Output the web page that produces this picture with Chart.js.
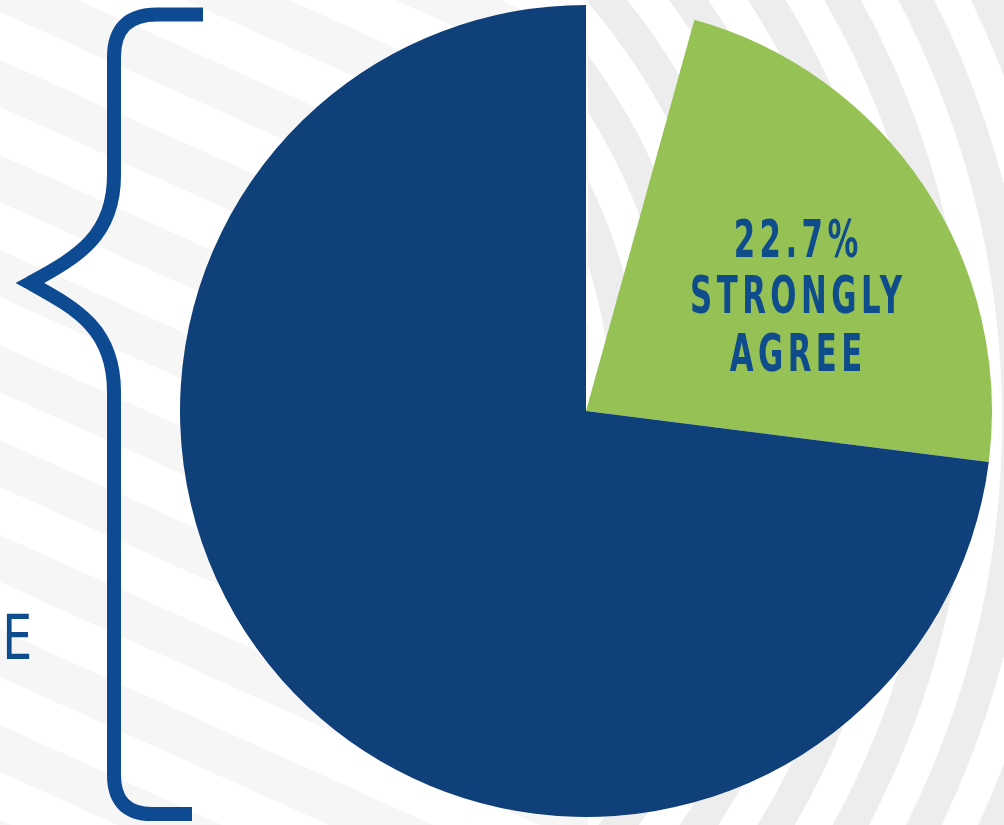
<!DOCTYPE html>
<html><head><meta charset="utf-8">
<script src="https://cdn.jsdelivr.net/npm/chart.js@4.4.1/dist/chart.umd.min.js"></script>
<style>
html,body{margin:0;padding:0;background:#fff;overflow:hidden}
#wrap{position:relative;width:1004px;height:825px}
#c{position:absolute;left:0;top:0}
.lbl{position:absolute;white-space:nowrap}
#slice-label{font-family:"DejaVu Sans Condensed","Liberation Sans Narrow",sans-serif;font-weight:700;font-size:46px;line-height:50.4px;letter-spacing:6px;padding-left:6px;color:#0f4c8c;text-align:center}
#brace-label{font-family:"DejaVu Sans Condensed","Liberation Sans Narrow",sans-serif;font-weight:400;font-size:62px;line-height:62px;color:#0f4c8c;text-align:right;transform-origin:right center;transform:scaleX(0.85)}
</style></head>
<body><div id="wrap"><canvas id="c" width="1004" height="825"></canvas>
<div id="slice-label" class="lbl"></div>
<div id="brace-label" class="lbl"></div></div>
<script>
// ---- data ----
const categories = ['Not shown', 'Strongly agree', 'Agree'];
const values = [4.3, 22.7, 73.0];
const sliceLabelLines = ['22.7%', 'STRONGLY', 'AGREE'];
const braceText = 'E';
const sliceColors = ['rgba(0,0,0,0)', '#96c154', '#10407a'];

const bgPlugin = {
  id: 'bg',
  beforeDraw(chart) {
    const ctx = chart.ctx, W = chart.width, H = chart.height;
    ctx.save();
    ctx.fillStyle = '#ffffff';
    ctx.fillRect(0, 0, W, H);
    // left diagonal stripes
    ctx.save();
    ctx.beginPath(); ctx.rect(0, 0, 588, H); ctx.clip();
    ctx.fillStyle = '#f6f6f6';
    const s = 0.45, P = 95, w = 47;
    for (let b = -700; b < H + 100; b += P) {
      ctx.beginPath();
      ctx.moveTo(-10, b - s * 10);
      ctx.lineTo(600, b + s * 600);
      ctx.lineTo(600, b + s * 600 + w);
      ctx.lineTo(-10, b - s * 10 + w);
      ctx.closePath(); ctx.fill();
    }
    ctx.restore();
    // right arcs
    ctx.save();
    ctx.beginPath(); ctx.rect(588, 0, W - 588, H); ctx.clip();
    ctx.strokeStyle = '#ededed'; ctx.lineWidth = 32;
    for (let r = 918 - 65 * 6; r < 1500; r += 65) {
      ctx.beginPath(); ctx.arc(100, 420, r, 0, Math.PI * 2); ctx.stroke();
    }
    ctx.restore();
    ctx.restore();
  }
};

const bracePlugin = {
  id: 'brace',
  afterDraw(chart) {
    const ctx = chart.ctx;
    ctx.save();
    ctx.strokeStyle = '#0d4a92';
    ctx.lineWidth = 14;
    ctx.lineJoin = 'miter';
    ctx.miterLimit = 10;
    ctx.lineCap = 'butt';
    const x = 114;
    ctx.beginPath();
    ctx.moveTo(203, 14.5);
    ctx.lineTo(157, 14.5);
    ctx.quadraticCurveTo(x, 14.5, x, 57);
    ctx.lineTo(x, 175);
    ctx.bezierCurveTo(x, 238, 75, 258, 30, 283);
    ctx.bezierCurveTo(75, 308, x, 328, x, 392);
    ctx.lineTo(x, 775);
    ctx.quadraticCurveTo(x, 814, 152, 814);
    ctx.lineTo(192, 814);
    ctx.stroke();
    ctx.restore();
  }
};

const chart = new Chart(document.getElementById('c'), {
  type: 'pie',
  data: {
    labels: categories,
    datasets: [{
      data: values,
      backgroundColor: sliceColors,
      borderWidth: 0,
      hoverOffset: 0
    }]
  },
  options: {
    responsive: false,
    devicePixelRatio: 1,
    animation: false,
    rotation: 0,
    layout: { padding: { left: 180, right: 12, top: 5, bottom: 8 } },
    plugins: { legend: { display: false }, tooltip: { enabled: false } },
    events: []
  },
  plugins: [bgPlugin, bracePlugin]
});

// slice label: condensed by scaling so the widest line is ~212px wide
const arc = chart.getDatasetMeta(0).data[1];
const sl = document.getElementById('slice-label');
sl.innerHTML = sliceLabelLines.map(t => '<div><span>' + t + '</span></div>').join('');
let maxW = 0;
sl.querySelectorAll('span').forEach(sp => { maxW = Math.max(maxW, sp.getBoundingClientRect().width - 6); });
const sx = 212 / maxW;
const r = arc.outerRadius;
sl.style.left = (arc.x + r * 0.517) + 'px';
sl.style.top = (arc.y - r * 0.283) + 'px';
sl.style.transform = 'translate(-50%,-50%) scale(' + sx.toFixed(3) + ',1.13)';

const bl = document.getElementById('brace-label');
bl.textContent = braceText;
bl.style.right = (1004 - 32) + 'px';
bl.style.top = '607px';
</script>
</body></html>
